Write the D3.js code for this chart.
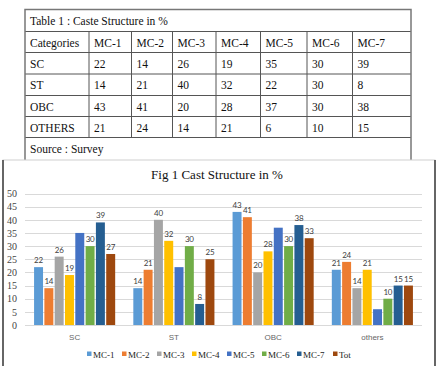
<!DOCTYPE html>
<html>
<head>
<meta charset="utf-8">
<script src="https://cdn.jsdelivr.net/npm/d3@7"></script>
<style>
  body { margin: 0; background: #fff; }
  svg { display: block; }
</style>
</head>
<body>
<div id="plot"></div>
<script>
// data
const categories = ["SC", "ST", "OBC", "others"];
const tableRows = ["SC", "ST", "OBC", "OTHERS"];
const series = ["MC-1", "MC-2", "MC-3", "MC-4", "MC-5", "MC-6", "MC-7", "Tot"];
const mc1 = [22, 14, 43, 21];
const mc2 = [14, 21, 41, 24];
const mc3 = [26, 40, 20, 14];
const mc4 = [19, 32, 28, 21];
const mc5 = [35, 22, 37, 6];
const mc6 = [30, 30, 30, 10];
const mc7 = [39, 8, 38, 15];
const tot = [27, 25, 33, 15];
const yTicks = [0, 5, 10, 15, 20, 25, 30, 35, 40, 45, 50];
const colors = ["#5b9bd5", "#ed7d31", "#a5a5a5", "#ffc000", "#4472c4", "#70ad47", "#255e91", "#9e480e"];
// MC-5 has no data labels in the original
const unlabelled = ["MC-5"];

const values = [mc1, mc2, mc3, mc4, mc5, mc6, mc7, tot];

const W = 438, H = 366;
const svg = d3.select("#plot").append("svg")
  .attr("width", W).attr("height", H).attr("viewBox", [0, 0, W, H]);

// ---- table ----
const serif = "'Liberation Serif', 'Times New Roman', serif";
const colX = [25, 89, 131.5, 172.5, 216, 260.5, 307, 352.5, 411];
const rowY = [9.5, 31.5, 52.5, 74, 95.5, 116.5, 137.5, 166];

const tbl = svg.append("g").attr("font-family", serif).attr("font-size", 11.5).attr("fill", "#111");

const cells = [];
cells.push(["Categories"].concat(series.slice(0, 7)));
tableRows.forEach((r, i) => cells.push([r].concat(values.slice(0, 7).map(v => v[i]))));

tbl.append("text").attr("x", colX[0] + 5).attr("y", rowY[0] + 15).text("Table 1 : Caste Structure in %");
cells.forEach((row, ri) => {
  row.forEach((c, ci) => {
    tbl.append("text").attr("x", colX[ci] + 5).attr("y", rowY[ri + 1] + 15).text(c);
  });
});
tbl.append("text").attr("x", colX[0] + 5).attr("y", rowY[6] + 15).text("Source : Survey");

const lines = svg.append("g").attr("stroke", "#555").attr("stroke-width", 1).attr("fill", "none");
// horizontal rules
rowY.slice(1, 7).forEach(y => lines.append("line").attr("x1", colX[0]).attr("x2", colX[8]).attr("y1", y).attr("y2", y));
// inner verticals
colX.slice(1, 8).forEach(x => lines.append("line").attr("x1", x).attr("x2", x).attr("y1", rowY[1]).attr("y2", rowY[6]));
// outer box
lines.append("rect").attr("x", colX[0]).attr("y", rowY[0]).attr("width", colX[8] - colX[0]).attr("height", rowY[7] - rowY[0])
  .attr("stroke", "#777").attr("stroke-width", 1.5);

// ---- chart box ----
const box = svg.append("g");
box.append("rect").attr("x", 3).attr("y", 160).attr("width", 432).attr("height", 220)
  .attr("fill", "#fff").attr("stroke", "#d0d0d0");
box.append("line").attr("x1", 3).attr("x2", 3).attr("y1", 160).attr("y2", H).attr("stroke", "#666").attr("stroke-width", 2);
box.append("line").attr("x1", 435).attr("x2", 435).attr("y1", 160).attr("y2", H).attr("stroke", "#666").attr("stroke-width", 2);

svg.append("text").attr("x", 217).attr("y", 179).attr("text-anchor", "middle")
  .attr("font-family", serif).attr("font-size", 13).attr("fill", "#111")
  .text("Fig 1 Cast Structure in %");

const x0 = d3.scaleBand().domain(categories).range([25, 422]);
const x1 = d3.scaleBand().domain(series).range([0, x0.bandwidth()]).paddingInner(0.13).paddingOuter(0.88);
const y = d3.scaleLinear().domain([0, 50]).range([325, 193.5]);

// grid
svg.append("g").attr("stroke", "#d9d9d9").attr("stroke-width", 1)
  .selectAll("line").data(yTicks).join("line")
  .attr("x1", 25).attr("x2", 422)
  .attr("y1", d => Math.round(y(d)) + 0.5).attr("y2", d => Math.round(y(d)) + 0.5);

// y axis labels
const yAxis = svg.append("g").attr("transform", "translate(25,0)")
  .call(d3.axisLeft(y).tickValues(yTicks).tickSize(0).tickPadding(8));
yAxis.select(".domain").remove();
yAxis.attr("font-family", serif).attr("font-size", 10);
yAxis.selectAll("text").attr("fill", "#444");

// x axis labels
const xAxis = svg.append("g").attr("transform", "translate(0,325)")
  .call(d3.axisBottom(x0).tickSize(0).tickPadding(9));
xAxis.select(".domain").remove();
xAxis.attr("font-family", "'Liberation Sans', Arial, sans-serif").attr("font-size", 8);
xAxis.selectAll("text").attr("fill", "#666");

// bars
const rows = [];
categories.forEach((c, ci) => series.forEach((s, si) => rows.push({ cat: c, s: s, si: si, v: values[si][ci] })));

const bars = svg.append("g");
bars.selectAll("rect").data(rows).join("rect")
  .attr("x", d => x0(d.cat) + x1(d.s))
  .attr("y", d => y(d.v))
  .attr("width", x1.bandwidth())
  .attr("height", d => y(0) - y(d.v))
  .attr("fill", d => colors[d.si]);

bars.selectAll("text").data(rows.filter(d => !unlabelled.includes(d.s))).join("text")
  .attr("x", d => x0(d.cat) + x1(d.s) + x1.bandwidth() / 2)
  .attr("y", d => y(d.v) - 4)
  .attr("text-anchor", "middle")
  .attr("font-family", "Lato, 'Liberation Sans', sans-serif").attr("font-size", 8)
  .attr("letter-spacing", -0.2).attr("fill", "#404040")
  .text(d => d.v);

// legend
const legendX = [87, 122, 157, 192, 227, 262, 297, 333];
const lg = svg.append("g").selectAll("g").data(series).join("g")
  .attr("transform", (d, i) => `translate(${legendX[i]},355)`);
lg.append("rect").attr("x", 0).attr("y", -3.5).attr("width", 4.5).attr("height", 4.5).attr("fill", (d, i) => colors[i]);
lg.append("text").attr("x", 6).attr("y", 3).attr("font-family", serif).attr("font-size", 9).attr("fill", "#222").text(d => d);
</script>
</body>
</html>
